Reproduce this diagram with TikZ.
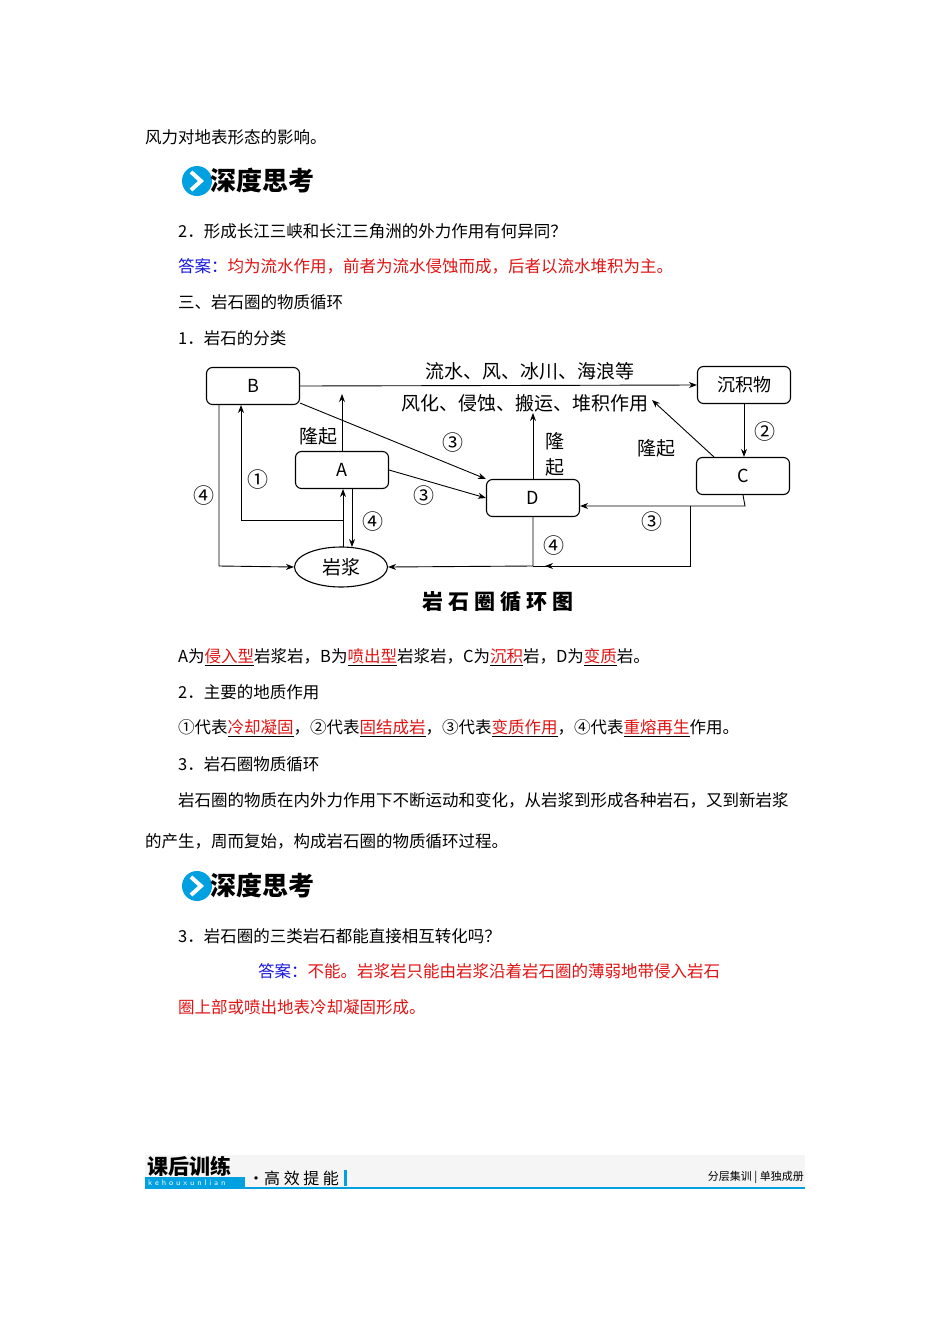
\documentclass[tikz,border=0pt]{standalone}
\usepackage{fontspec}
\newfontfamily\cjk{Noto Sans CJK SC}
\usetikzlibrary{shapes.geometric,arrows.meta}
\definecolor{ared}{RGB}{225,20,20}
\definecolor{ablue}{RGB}{20,20,220}
\definecolor{bblue}{RGB}{0,160,225}
\newcommand{\ul}[1]{\underline{\textcolor{ared}{#1}}}
\begin{document}
\begin{tikzpicture}[x=1pt,y=-1pt,
  txt/.style={anchor=west,inner sep=0pt,font=\cjk\fontsize{16.5}{19}\selectfont},
  rbox/.style={draw,line width=1.1pt,rounded corners=6pt,minimum width=93pt,minimum height=37pt,font=\cjk\fontsize{18}{20}\selectfont},
  lab/.style={inner sep=0pt,font=\cjk\fontsize{19}{22}\selectfont},
  num/.style={inner sep=0pt,font=\cjk\fontsize{21}{22}\selectfont},
  ar/.style={-{Stealth[length=8pt,width=6pt]},line width=0.9pt},
  ln/.style={line width=0.9pt}]
\useasboundingbox (0,0) rectangle (950,1344);
\fill[white] (0,0) rectangle (950,1344);
% text
\node[txt] (t1) at (145,137) {风力对地表形态的影响。};
\foreach \y/\n in {181/bn1,886/bn2}{
  \fill[bblue] (197,\y) circle (15);
  \draw[white,line width=4pt] (191,\y-9) -- (201,\y) -- (191,\y+9);
  \node[anchor=west,inner sep=0pt,font=\cjk\bfseries\fontsize{26}{28}\selectfont] (\n) at (210,\y) {深度思考};
}
\node[txt] (t2) at (178,231) {2．形成长江三峡和长江三角洲的外力作用有何异同？};
\node[txt] (t3) at (178,266) {\textcolor{ablue}{答案：}\textcolor{ared}{均为流水作用，前者为流水侵蚀而成，后者以流水堆积为主。}};
\node[txt] (t4) at (178,302) {三、岩石圈的物质循环};
\node[txt] (t5) at (178,338) {1．岩石的分类};
\node[txt] (t6) at (178,657) {A为\ul{侵入型}岩浆岩，B为\ul{喷出型}岩浆岩，C为\ul{沉积}岩，D为\ul{变质}岩。};
\node[txt] (t7) at (178,692) {2．主要的地质作用};
\node[txt] (t8) at (178,728) {①代表\ul{冷却凝固}，②代表\ul{固结成岩}，③代表\ul{变质作用}，④代表\ul{重熔再生}作用。};
\node[txt] (t9) at (178,764) {3．岩石圈物质循环};
\node[txt] (t10) at (178,800) {岩石圈的物质在内外力作用下不断运动和变化，从岩浆到形成各种岩石，又到新岩浆};
\node[txt] (t11) at (145,841) {的产生，周而复始，构成岩石圈的物质循环过程。};
\node[txt] (t12) at (178,936) {3．岩石圈的三类岩石都能直接相互转化吗？};
\node[txt] (t13) at (258,971) {\textcolor{ablue}{答案：}\textcolor{ared}{不能。岩浆岩只能由岩浆沿着岩石圈的薄弱地带侵入岩石}};
\node[txt] (t14) at (178,1007) {\textcolor{ared}{圈上部或喷出地表冷却凝固形成。}};
% diagram
\node[rbox] (B) at (253,386) {B};
\node[rbox] (S) at (744,385) {沉积物};
\node[rbox] (A) at (342,470) {A};
\node[rbox] (D) at (533,498) {D};
\node[rbox] (C) at (743,476) {C};
\node[draw,line width=1.1pt,ellipse,minimum width=93pt,minimum height=40pt,lab] (M) at (341,567) {岩浆};
\node[lab] (l1) at (530,371) {流水、风、冰川、海浪等};
\node[lab] (l2) at (525,403) {风化、侵蚀、搬运、堆积作用};
\coordinate (tl) at (652,400);
\coordinate (td) at (533,413);
\draw[ar] (B.east) -- (S.west);
\draw[ar] (A.north) -- (342,394);
\node[lab] (lq1) at (318,436) {隆起};
\draw[ar] (D.north) -- (td);
\node[lab] (lq2) at (555,441) {隆};
\node[lab] (lq3) at (555,467) {起};
\draw[ar] (C.north west) ++(18,0) -- (tl);
\node[lab] (lq4) at (656,448) {隆起};
\draw[ar] (S.south) -- (C.north -| S.south);
\node[num] (n2) at (765,432) {②};
\draw[ar] (B.south east) ++(0,-2) -- (D.north west);
\node[num] (n3a) at (453,443) {③};
\draw[ar] (A.east) -- (D.west);
\node[num] (n3b) at (424,496) {③};
\draw[ar] (C.south) -- (745,506) -- (D.east |- 0,506);
\node[num] (n3c) at (652,522) {③};
\draw[ln] (690,506) -- (690,566) -- (533,566);
\draw[ar] (D.south) -- (533,566) -- (M.east);
\draw[ar] (690,566) -- (545,566);
\node[num] (n4a) at (554,546) {④};
\draw[ar] (219,405) -- (219,566) -- (M.west);
\node[num] (n4b) at (204,496) {④};
\draw[ar] (343,547) -- (343,520) -- (241,520) -- (241,405);
\node[num] (n1) at (258,480) {①};
\draw[ar] (343,547) -- (343,489);
\draw[ar] (352,489) -- (352,547);
\node[num] (n4c) at (373,522) {④};
\node[lab,font=\cjk\bfseries\fontsize{21}{24}\selectfont] (cap) at (498,602) {岩 石 圈 循 环 图};
% footer
\fill[black!4] (145,1155) rectangle (805,1188);
\draw[bblue,line width=2pt] (145,1188) -- (805,1188);
\fill[bblue] (145,1177) rectangle (245,1189);
\node[anchor=west,inner sep=0pt,white,font=\sffamily\fontsize{8}{9}\selectfont] (kx) at (148,1183) {k e h o u x u n l i a n};
\node[anchor=west,inner sep=0pt,font=\cjk\bfseries\fontsize{21}{22}\selectfont] (kh) at (147,1166) {课后训练};
\node[anchor=west,inner sep=0pt,font=\cjk\fontsize{16}{18}\selectfont] (gx) at (248,1178) {·高 效 提 能};
\fill[bblue] (344,1170) rectangle (347,1186);
\node[anchor=east,inner sep=0pt,font=\cjk\fontsize{11}{13}\selectfont] (fc) at (804,1177) {分层集训 | 单独成册};
\end{tikzpicture}
\end{document}
